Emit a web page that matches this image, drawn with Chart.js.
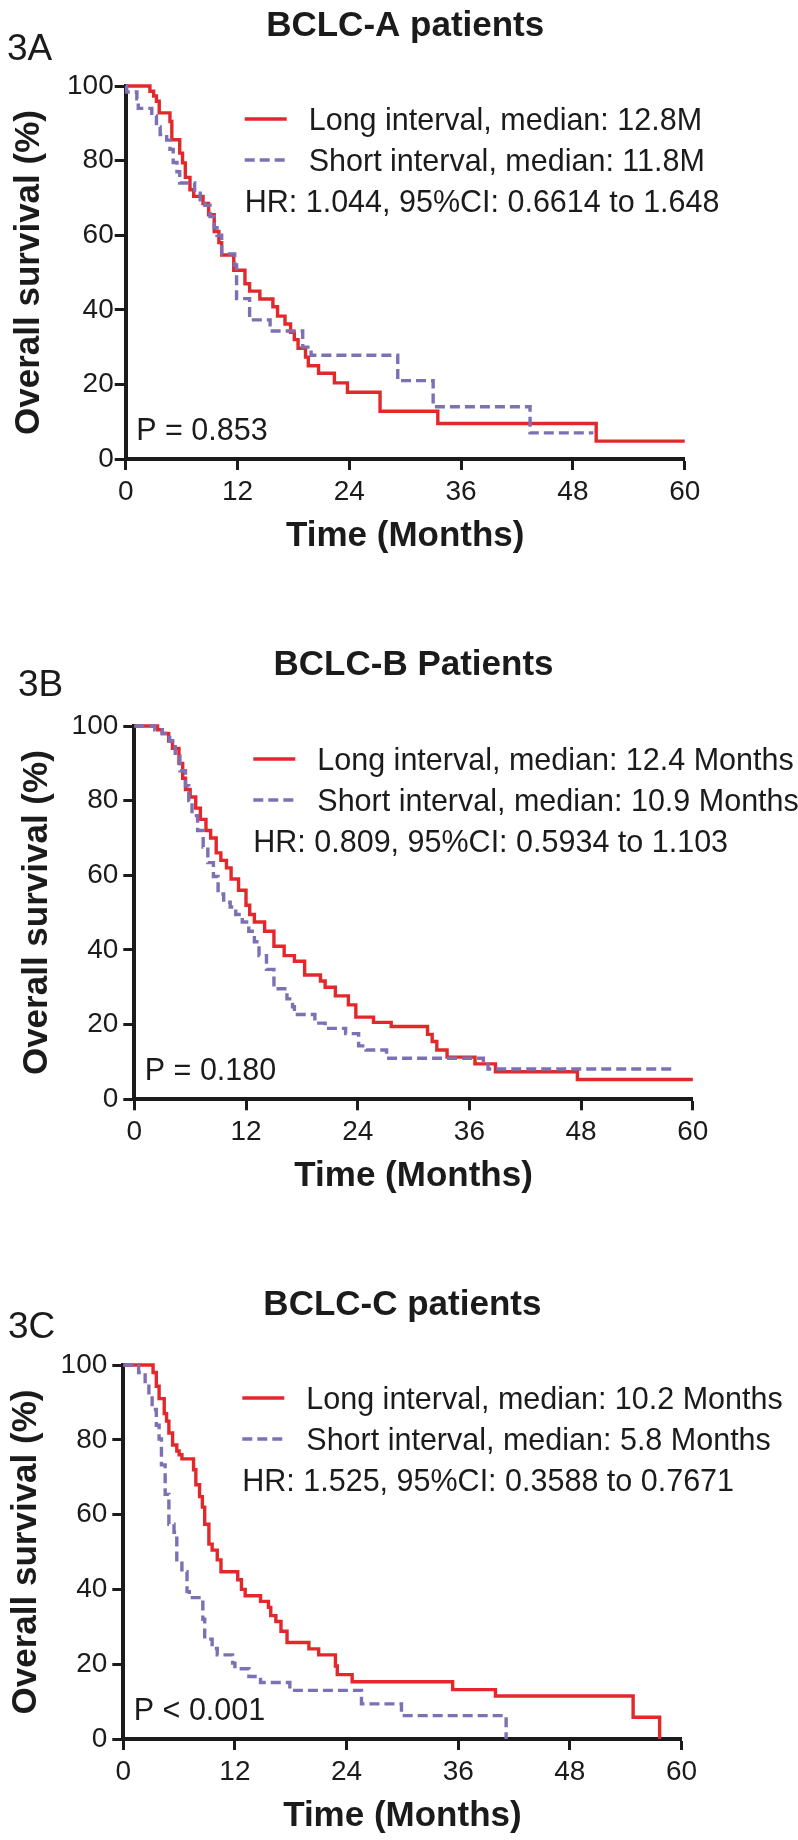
<!DOCTYPE html>
<html>
<head>
<meta charset="utf-8">
<title>Overall survival by BCLC stage</title>
<script src="https://cdn.jsdelivr.net/npm/chart.js@4.4.1/dist/chart.umd.min.js"></script>
<style>
    body { margin: 0; background: #fff; }
    canvas.panel { position: absolute; left: 0; }
</style>
</head>
<body>
<canvas id="chartA" class="panel" width="798" height="600" style="top:0px"></canvas>
<canvas id="chartB" class="panel" width="798" height="620" style="top:600px"></canvas>
<canvas id="chartC" class="panel" width="798" height="620" style="top:1220px"></canvas>
<script>
// Values (months, % surviving after each step)
const monthTicks = [0, 12, 24, 36, 48, 60];
const survivalTicks = [0, 20, 40, 60, 80, 100];

// 3A - BCLC-A
const aLongMonths = [0, 2.6, 3.0, 3.3, 3.6, 4.75, 4.95, 5.8, 6.1, 6.4, 6.9, 7.3, 8.3, 8.9, 9.5, 10.0, 10.3, 11.6, 12.8, 13.3, 14.4, 15.8, 16.3, 17.1, 17.7, 18.1, 18.5, 19.3, 19.6, 20.7, 22.4, 23.8, 27.3, 33.5, 50.5, 60];
const aLongSurvival = [100, 98.6, 97.3, 95.9, 92.8, 90.5, 85.6, 82, 79.4, 75.5, 72.2, 70.4, 68.5, 65.5, 61, 58, 54.7, 50.6, 47, 45, 42.9, 40.8, 38.3, 36.2, 34, 32, 29.7, 27.3, 25, 23, 20.4, 17.9, 12.8, 9.5, 4.8, 4.8];
const aShortMonths = [0, 0.1, 1.2, 1.35, 2.8, 3.3, 3.7, 4.4, 4.75, 5.1, 5.5, 5.8, 7.4, 8.0, 8.5, 9.05, 9.5, 9.8, 10.3, 11.7, 11.9, 13.3, 15.5, 19.0, 19.9, 29.2, 33.0, 43.4, 50.2];
const aShortSurvival = [100, 98.4, 96.6, 94, 92, 89, 87, 85.5, 83, 79.5, 77, 74, 72, 69.5, 68, 65, 62, 60, 55, 52, 43, 37.3, 34.3, 30, 27.8, 21, 14, 7, 7];

// 3B - BCLC-B
const bLongMonths = [0, 2.5, 3.0, 3.7, 4.1, 4.8, 5.2, 5.5, 6.0, 6.6, 7.1, 7.7, 8.2, 8.8, 9.3, 9.9, 10.4, 11.2, 12.0, 12.4, 12.9, 14.0, 15.0, 16.1, 17.2, 18.3, 20.0, 20.5, 21.6, 23.0, 23.8, 25.7, 27.6, 31.5, 32.0, 32.5, 33.6, 36.6, 38.8, 47.6, 60];
const bLongSurvival = [100, 99, 98, 96, 94, 90, 86, 83, 81, 78, 75, 72, 70, 66, 64, 62, 59, 56, 52, 49.5, 47.5, 45, 41, 38.5, 37, 33.3, 31.7, 30, 27.7, 25.3, 22, 20.6, 19.5, 17.4, 15.5, 13.2, 11.3, 9.5, 7.4, 5.3, 5.3];
const bShortMonths = [0, 2.2, 3.0, 3.8, 4.4, 4.9, 5.5, 5.85, 6.2, 6.8, 7.4, 7.9, 8.5, 9.0, 9.6, 10.3, 10.9, 11.6, 12.3, 12.9, 13.4, 14.2, 15.0, 16.4, 17.0, 17.2, 19.4, 20.5, 22.7, 24.1, 24.9, 27.1, 37.5, 38.0, 57.7];
const bShortSurvival = [100, 99, 98, 96, 92, 88, 84, 80, 76, 72, 67.6, 63.4, 59.7, 55, 52.8, 51.5, 49.5, 47.5, 45, 42.2, 38.5, 34.8, 29.6, 26.9, 24.8, 22.7, 20.4, 19, 17.6, 14.3, 13.2, 11, 10, 8.1, 8.1];

// 3C - BCLC-C
const cLongMonths = [0, 3.2, 3.55, 3.85, 4.4, 4.65, 4.9, 5.3, 5.75, 6.0, 6.3, 7.55, 7.8, 8.2, 8.5, 8.75, 9.2, 9.55, 10.1, 10.5, 12.3, 12.7, 13.1, 14.75, 15.6, 15.85, 16.4, 16.95, 17.6, 19.95, 21.0, 22.8, 23.0, 24.6, 35.4, 40.0, 54.8, 57.65];
const cLongSurvival = [100, 98, 94.3, 91, 87, 85, 81.8, 78.6, 77, 76, 74.9, 72, 68, 64.8, 62, 57.4, 52.1, 50.5, 47.9, 44.7, 42.6, 40, 38.3, 36.8, 35.2, 33, 31.4, 28.8, 25.8, 24.1, 22.5, 19.5, 17.2, 15.3, 13.2, 11.5, 5.8, 0];
const cShortMonths = [0, 1.65, 2.35, 2.75, 3.1, 3.55, 3.85, 4.1, 4.5, 4.9, 5.45, 5.75, 6.3, 6.85, 7.1, 8.55, 8.75, 9.55, 10.1, 11.75, 12.0, 13.5, 14.75, 17.9, 25.6, 29.9, 41.15];
const cShortSurvival = [100, 98, 95, 91.8, 88.1, 83.9, 80.2, 73.3, 65.4, 57.4, 55.3, 47.9, 44.7, 39.4, 37.8, 32, 26.7, 24.2, 22.5, 20.3, 18.8, 16.7, 15.1, 13, 9.4, 6.25, 0];

// Texts
const panelTags = ['3A', '3B', '3C'];
const panelTitles = ['BCLC-A patients', 'BCLC-B Patients', 'BCLC-C patients'];
const longLabels = ['Long interval, median: 12.8M', 'Long interval, median: 12.4 Months', 'Long interval, median: 10.2 Months'];
const shortLabels = ['Short interval, median: 11.8M', 'Short interval, median: 10.9 Months', 'Short interval, median: 5.8 Months'];
const hrLabels = ['HR: 1.044, 95%CI: 0.6614 to 1.648', 'HR: 0.809, 95%CI: 0.5934 to 1.103', 'HR: 1.525, 95%CI: 0.3588 to 0.7671'];
const pLabels = ['P = 0.853', 'P = 0.180', 'P < 0.001'];

const FONT = "'Liberation Sans', Arial, Helvetica, sans-serif";
const RED = '#e3282c';
const PURPLE = '#7e70b4';
const INK = '#1b1b1b';

// layout of each panel inside its canvas (plot edges in px)
const panelLayout = [
    { left: 125.7, right: 684.7, titleTop: 5, titleBottom: 39, padBottom: 43, yTickPad: 1, tagX: 7, tagY: 60 },
    { left: 134.3, right: 692.8, titleTop: 44, titleBottom: 40, padBottom: 22.7, yTickPad: 5, tagX: 18, tagY: 96 },
    { left: 123.3, right: 681.5, titleTop: 64, titleBottom: 39, padBottom: 3, yTickPad: 5, tagX: 8, tagY: 118 }
];

// panel letter, legend rows, HR and P value drawn inside the plot
const panelText = {
    id: 'panelText',
    afterDraw(chart, args, opts) {
        const { ctx, chartArea } = chart;
        const { left, top, bottom } = chartArea;
        ctx.save();
        ctx.fillStyle = INK;
        ctx.textAlign = 'left';
        ctx.textBaseline = 'alphabetic';

        ctx.font = `37px ${FONT}`;
        ctx.fillText(opts.tag, opts.tagX, opts.tagY);

        ctx.font = `30.5px ${FONT}`;
        chart.data.datasets.forEach((ds, i) => {
            const base = top + 44 + i * 41;
            ctx.strokeStyle = ds.borderColor;
            ctx.lineWidth = ds.borderWidth;
            ctx.setLineDash(ds.borderDash || []);
            ctx.beginPath();
            ctx.moveTo(left + 119, base - 11);
            ctx.lineTo(left + 161, base - 11);
            ctx.stroke();
            ctx.fillText(ds.label, left + 183, base);
        });
        ctx.setLineDash([]);
        ctx.fillText(opts.hr, left + 119, top + 126);
        ctx.fillText(opts.p, left + 10.5, bottom - 19);
        ctx.restore();
    }
};

function toPoints(months, survival) {
    return months.map((m, i) => ({ x: m, y: survival[i] }));
}

function buildChart(canvasId, idx, longMonths, longSurvival, shortMonths, shortSurvival) {
    const lay = panelLayout[idx];
    const lineBase = { borderWidth: 3.4, pointRadius: 0, stepped: 'before', fill: false, clip: false, tension: 0 };

    return new Chart(document.getElementById(canvasId), {
        type: 'line',
        data: {
            datasets: [
                Object.assign({}, lineBase, {
                    label: longLabels[idx],
                    data: toPoints(longMonths, longSurvival),
                    borderColor: RED,
                    order: 2
                }),
                Object.assign({}, lineBase, {
                    label: shortLabels[idx],
                    data: toPoints(shortMonths, shortSurvival),
                    borderColor: PURPLE,
                    borderDash: [10, 5],
                    order: 1
                })
            ]
        },
        options: {
            responsive: false,
            devicePixelRatio: 1,
            animation: false,
            events: [],
            layout: {
                padding: { left: 0, top: 0, right: 798 - lay.right, bottom: lay.padBottom }
            },
            scales: {
                x: {
                    type: 'linear',
                    min: 0,
                    max: 60,
                    afterBuildTicks: (s) => { s.ticks = monthTicks.map(v => ({ value: v })); },
                    afterFit: (s) => { s.height = 98; },
                    grid: { drawOnChartArea: false, tickLength: 11, tickWidth: 3, tickColor: INK },
                    border: { width: 4, color: INK },
                    ticks: { font: { family: FONT, size: 28 }, color: INK, padding: 5.5, maxRotation: 0 },
                    title: {
                        display: true,
                        text: 'Time (Months)',
                        font: { family: FONT, size: 35, weight: 'bold' },
                        color: INK,
                        padding: 0
                    }
                },
                y: {
                    type: 'linear',
                    min: 0,
                    max: 100,
                    afterBuildTicks: (s) => { s.ticks = survivalTicks.map(v => ({ value: v })); },
                    afterFit: (s) => { s.width = lay.left; },
                    grid: { drawOnChartArea: false, tickLength: 11, tickWidth: 3, tickColor: INK },
                    border: { width: 4, color: INK },
                    ticks: { font: { family: FONT, size: 28 }, color: INK, padding: lay.yTickPad },
                    title: {
                        display: true,
                        text: 'Overall survival (%)',
                        font: { family: FONT, size: 35, weight: 'bold' },
                        color: INK,
                        padding: { top: lay.left - 117.7, bottom: 0 }
                    }
                }
            },
            plugins: {
                legend: { display: false },
                tooltip: { enabled: false },
                title: {
                    display: true,
                    text: panelTitles[idx],
                    fullSize: false,
                    color: INK,
                    font: { family: FONT, size: 35, weight: 'bold' },
                    padding: { top: lay.titleTop, bottom: lay.titleBottom }
                },
                panelText: {
                    tag: panelTags[idx],
                    tagX: lay.tagX,
                    tagY: lay.tagY,
                    hr: hrLabels[idx],
                    p: pLabels[idx]
                }
            }
        },
        plugins: [panelText]
    });
}

document.addEventListener('DOMContentLoaded', function() {
    buildChart('chartA', 0, aLongMonths, aLongSurvival, aShortMonths, aShortSurvival);
    buildChart('chartB', 1, bLongMonths, bLongSurvival, bShortMonths, bShortSurvival);
    buildChart('chartC', 2, cLongMonths, cLongSurvival, cShortMonths, cShortSurvival);
});
</script>
</body>
</html>
